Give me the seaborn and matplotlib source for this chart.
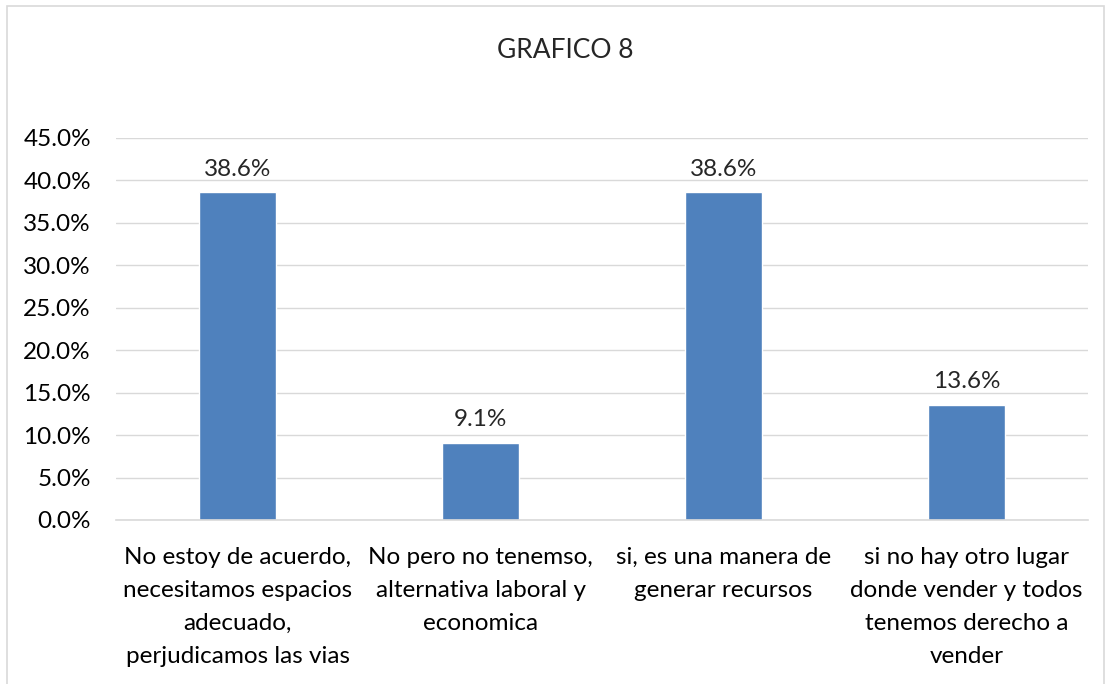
import matplotlib
matplotlib.use("Agg")
import matplotlib.pyplot as plt
import matplotlib.patches as mpatches
import seaborn as sns
import pandas as pd
from matplotlib.ticker import FuncFormatter

# datos del grafico
categorias = [
    "No estoy de acuerdo,\nnecesitamos espacios\nadecuado,\nperjudicamos las vias",
    "No pero no tenemso,\nalternativa laboral y\neconomica",
    "si, es una manera de\ngenerar recursos",
    "si no hay otro lugar\ndonde vender y todos\ntenemos derecho a\nvender",
]
porcentajes = [38.6, 9.1, 38.6, 13.6]
etiquetas = ["38.6%", "9.1%", "38.6%", "13.6%"]

df = pd.DataFrame({"categoria": categorias, "valor": porcentajes})

sns.set_style("white")
plt.rcParams['font.family'] = ['Lato', 'DejaVu Sans']

W, H = 1112, 684
fig = plt.figure(figsize=(W / 100, H / 100), dpi=100)
ax = fig.add_axes([116 / W, 1 - 520 / H, (1088 - 116) / W, (520 - 138) / H])

sns.barplot(data=df, x="categoria", y="valor", color="#4F81BD", width=0.313,
            saturation=1, ax=ax)

ax.set_ylim(0, 45)
ax.set_yticks(range(0, 50, 5))
ax.yaxis.set_major_formatter(FuncFormatter(lambda v, p: f"{v:.1f}%"))
ax.grid(axis="y", color="#D9D9D9", linewidth=1)
ax.set_axisbelow(True)
for s in ["top", "right", "left"]:
    ax.spines[s].set_visible(False)
ax.spines["bottom"].set_color("#D9D9D9")
ax.spines["bottom"].set_linewidth(1.2)
ax.tick_params(axis="both", length=0, labelsize=17.5, colors="#000000")
ax.tick_params(axis="y", pad=18)
ax.tick_params(axis="x", pad=19.5)
for t in ax.get_xticklabels():
    t.set_linespacing(1.7)
ax.set_xlabel("")
ax.set_ylabel("")

for i, (v, lab) in enumerate(zip(porcentajes, etiquetas)):
    ax.annotate(lab, (i, v), xytext=(0, 9), textcoords="offset points",
                ha="center", va="bottom", fontsize=17.5)

fig.text(565 / W, 1 - 50 / H, "GRAFICO 8", ha="center", va="center", fontsize=19)

# borde del area del grafico
fig.patches.append(mpatches.Rectangle((7 / W, -0.05), (1104 - 7) / W, 1.05 - 6 / H,
                                      transform=fig.transFigure, fill=False,
                                      edgecolor="#D9D9D9", linewidth=1.2))

fig.savefig("out.png", dpi=100)
